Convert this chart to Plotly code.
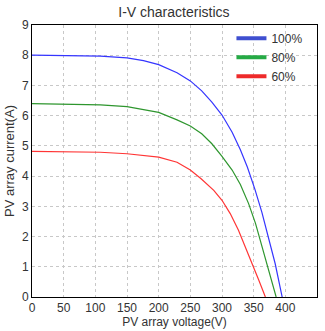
import plotly.graph_objects as go

V_100 = [0, 50, 108, 150, 176, 200, 229, 250, 268, 284, 300, 316, 329, 340, 352, 363, 374, 384, 395]
I_100 = [8.0, 7.99, 7.97, 7.91, 7.82, 7.69, 7.42, 7.15, 6.82, 6.45, 6.02, 5.45, 4.87, 4.3, 3.56, 2.8, 1.95, 1.1, 0]

V_80 = [0, 50, 108, 150, 200, 229, 250, 268, 284, 300, 316, 329, 342, 353, 363, 374, 385.5]
I_80 = [6.4, 6.39, 6.36, 6.3, 6.11, 5.86, 5.66, 5.4, 5.07, 4.65, 4.2, 3.72, 3.09, 2.43, 1.7, 0.9, 0]

V_60 = [0, 50, 108, 150, 200, 229, 250, 267, 287, 300, 313, 326, 337, 347, 358, 368.5]
I_60 = [4.82, 4.81, 4.79, 4.74, 4.63, 4.46, 4.2, 3.91, 3.53, 3.2, 2.76, 2.21, 1.66, 1.11, 0.56, 0]

labels = ["100%", "80%", "60%"]
line_colors = ["#3535ff", "#2e962e", "#ff3535"]
legend_colors = ["#3f4fd0", "#25aa45", "#ee2a2a"]

FONT = "Liberation Sans Narrow, Liberation Sans, Arial, sans-serif"

fig = go.Figure()
for V, I, c in zip([V_100, V_80, V_60], [I_100, I_80, I_60], line_colors):
    fig.add_trace(go.Scatter(x=V, y=I, mode="lines", line=dict(color=c, width=1.2),
                             showlegend=False, hoverinfo="skip"))
for lab, c in zip(labels, legend_colors):
    fig.add_trace(go.Scatter(x=[None], y=[None], mode="lines", name=lab, line=dict(color=c, width=4)))

axis_common = dict(showline=True, linecolor="black", linewidth=1, mirror=True,
                   showgrid=True, gridcolor="#c8c8c8", griddash="dot", gridwidth=1,
                   zeroline=False, ticks="", automargin=False,
                   tickfont=dict(family=FONT, size=12, color="#333"))

fig.update_layout(
    width=325, height=331,
    margin=dict(l=32, r=8, t=25, b=34),
    paper_bgcolor="white", plot_bgcolor="white",
    font=dict(family=FONT, color="#333"),
    title=dict(text="I-V characteristics", x=0.535, xanchor="center", y=0.963, yanchor="middle",
               font=dict(family=FONT, size=14, color="#333")),
    xaxis=dict(range=[0, 450], tickvals=list(range(0, 451, 50)),
               title=dict(text="PV array voltage(V)", font=dict(family=FONT, size=12, color="#333"), standoff=3),
               **axis_common),
    yaxis=dict(range=[0, 9], tickvals=list(range(0, 10)),
               title=dict(text="PV array current(A)", font=dict(family=FONT, size=13, color="#333"), standoff=4),
               **axis_common),
    legend=dict(x=0.97, y=1.005, xanchor="right", yanchor="top", bgcolor="rgba(255,255,255,0)",
                font=dict(family=FONT, size=12, color="#333"), itemwidth=30, tracegroupgap=0),
)

fig.write_html("out.html", config={"displayModeBar": False},
               post_script="document.body.style.margin='0';document.body.style.overflow='hidden';")
